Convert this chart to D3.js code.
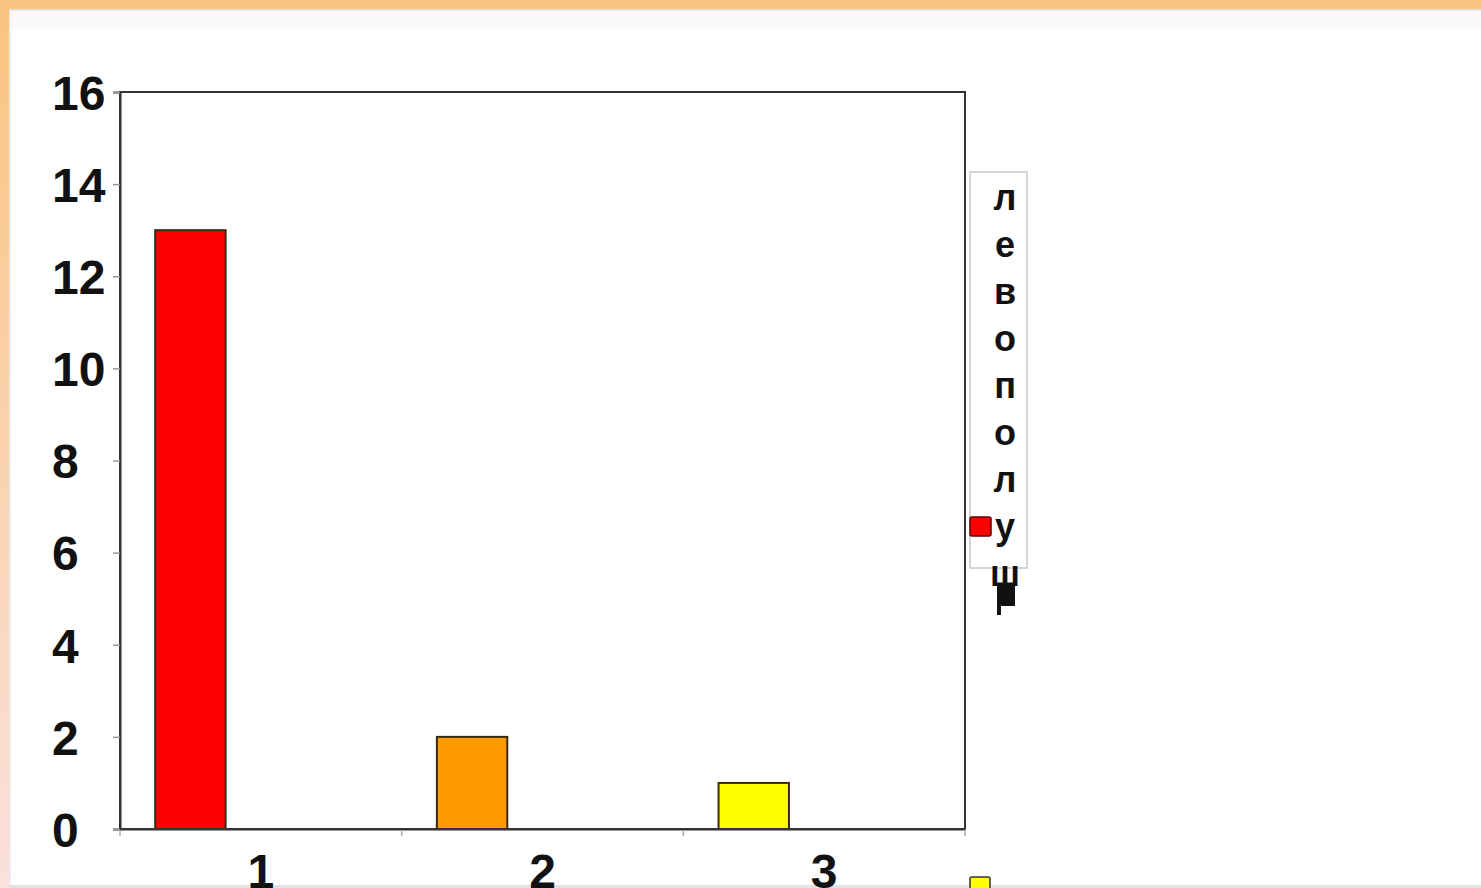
<!DOCTYPE html>
<html>
<head>
<meta charset="utf-8">
<script src="https://cdn.jsdelivr.net/npm/d3@7"></script>
<style>
html,body{margin:0;padding:0;background:#fff;overflow:hidden;}
svg{display:block;}
</style>
</head>
<body>
<svg id="chart" width="1481" height="888"></svg>
<script>
const categories = ["1", "2", "3"];
const values = [13, 2, 1];
const barColors = ["#FF0000", "#FF9900", "#FFFF00"];
const yTicks = [0, 2, 4, 6, 8, 10, 12, 14, 16];
const legendText = "левополуш";
const seriesSlots = ["s1", "s2", "s3"];

(function () {
const svg = d3.select("#chart");
const defs = svg.append("defs");
const lg = defs.append("linearGradient").attr("id", "leftEdge")
  .attr("x1", 0).attr("y1", 0).attr("x2", 0).attr("y2", 1);
lg.append("stop").attr("offset", "0%").attr("stop-color", "#F9C47F");
lg.append("stop").attr("offset", "100%").attr("stop-color", "#FBE0DC");

// page frame
svg.append("rect").attr("x", 0).attr("y", 0).attr("width", 1481).attr("height", 888).attr("fill", "#fff");
svg.append("rect").attr("x", 0).attr("y", 0).attr("width", 9).attr("height", 888).attr("fill", "url(#leftEdge)");
svg.append("rect").attr("x", 0).attr("y", 0).attr("width", 1481).attr("height", 9).attr("fill", "#F9C47F");
svg.append("rect").attr("x", 9).attr("y", 9).attr("width", 1472).attr("height", 2).attr("fill", "#e4e4e4");
svg.append("rect").attr("x", 9).attr("y", 11).attr("width", 1472).attr("height", 18).attr("fill", "#fafafa");
svg.append("rect").attr("x", 9).attr("y", 9).attr("width", 2).attr("height", 879).attr("fill", "#ececec");
svg.append("rect").attr("x", 9).attr("y", 885).attr("width", 1472).attr("height", 3).attr("fill", "#e2e2e2");

const pl = 120, pr = 965, pt = 92, pb = 829;

const x = d3.scaleBand().domain(categories).range([pl, pr]).padding(0);
const inner = d3.scaleBand().domain(seriesSlots).range([0, x.bandwidth()]).paddingInner(0).paddingOuter(0.5);
const y = d3.scaleLinear().domain([0, 16]).range([pb, pt]);

// plot frame
svg.append("rect").attr("x", pl).attr("y", pt).attr("width", pr - pl).attr("height", pb - pt)
  .attr("fill", "#fff").attr("stroke", "#333").attr("stroke-width", 2);

// y axis ticks
const yAxis = d3.axisLeft(y).tickValues(yTicks).tickSize(7).tickPadding(8).tickFormat(d3.format("d"));
const gy = svg.append("g").attr("transform", `translate(${pl},0)`).call(yAxis);
gy.select(".domain").attr("stroke", "#333").attr("stroke-width", 2);
gy.selectAll(".tick line").attr("stroke", "#999").attr("stroke-width", 1.5);
gy.selectAll(".tick text").attr("font-family", "Liberation Sans, Arial, sans-serif")
  .attr("font-weight", "bold").attr("font-size", 48).attr("fill", "#111").attr("dy", "0.36em")
  .attr("text-anchor", "start").attr("x", 52 - pl);

// x axis
const xAxis = d3.axisBottom(x).tickSize(0).tickPadding(25);
const gx = svg.append("g").attr("transform", `translate(0,${pb})`).call(xAxis);
gx.select(".domain").attr("stroke", "#333").attr("stroke-width", 2);
gx.selectAll(".tick text").attr("font-family", "Liberation Sans, Arial, sans-serif")
  .attr("font-weight", "bold").attr("font-size", 48).attr("fill", "#111").attr("dy", "0.71em");
// category boundary ticks
const bounds = categories.map(c => x(c)).concat([pr]);
svg.append("g").selectAll("line").data(bounds).join("line")
  .attr("x1", d => d).attr("x2", d => d).attr("y1", pb).attr("y2", pb + 7)
  .attr("stroke", "#aaa").attr("stroke-width", 1.5);

// bars
svg.append("g").selectAll("rect").data(values).join("rect")
  .attr("x", (d, i) => x(categories[i]) + inner("s1"))
  .attr("width", inner.bandwidth())
  .attr("y", d => y(d))
  .attr("height", d => pb - y(d))
  .attr("fill", (d, i) => barColors[i])
  .attr("stroke", "#3a2a10").attr("stroke-width", 2);

svg.append("line").attr("x1", pl).attr("x2", pr).attr("y1", pb).attr("y2", pb)
  .attr("stroke", "#333").attr("stroke-width", 2);

// legend
svg.append("rect").attr("x", 970).attr("y", 172).attr("width", 57).attr("height", 396)
  .attr("fill", "#fff").attr("stroke", "#c8c8c8").attr("stroke-width", 1.5);
const letters = legendText.split("");
svg.append("g").selectAll("text").data(letters).join("text")
  .attr("x", 1005).attr("y", (d, i) => 210 + i * 47)
  .attr("text-anchor", "middle")
  .attr("font-family", "Liberation Sans, Arial, sans-serif").attr("font-weight", "bold")
  .attr("font-size", 36).attr("fill", "#111")
  .text(d => d);
// clipped overflow of the next legend entry
svg.append("rect").attr("x", 997).attr("y", 584).attr("width", 18).attr("height", 22).attr("fill", "#111");
svg.append("rect").attr("x", 997).attr("y", 600).attr("width", 4).attr("height", 15).attr("fill", "#111");

svg.append("rect").attr("x", 970).attr("y", 517).attr("width", 21).attr("height", 19).attr("rx", 2)
  .attr("fill", barColors[0]).attr("stroke", "#5a0000").attr("stroke-width", 1.5);
svg.append("rect").attr("x", 970).attr("y", 877).attr("width", 20).attr("height", 19).attr("rx", 2)
  .attr("fill", barColors[2]).attr("stroke", "#333").attr("stroke-width", 1.5);
})();
</script>
</body>
</html>
